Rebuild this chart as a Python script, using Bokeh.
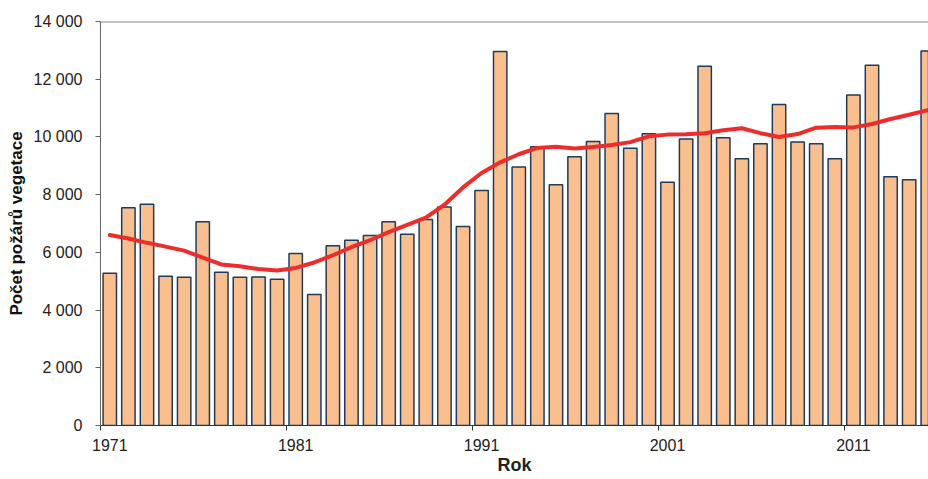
from bokeh.plotting import figure
from bokeh.models import Range1d, FixedTicker, LinearAxis, Span, ColumnDataSource, CustomJSTickFormatter
from bokeh.transform import dodge
from bokeh.embed import file_html
from bokeh.resources import INLINE

years = list(range(1971, 2016))
fires = [5280, 7550, 7670, 5170, 5140, 7060, 5310, 5140, 5150, 5070,
         5960, 4540, 6230, 6420, 6580, 7060, 6630, 7140, 7570, 6900,
         8140, 12960, 8960, 9660, 8340, 9310, 9840, 10810, 9610, 10110,
         8430, 9930, 12450, 9970, 9240, 9760, 11120, 9820, 9760, 9240,
         11450, 12480, 8620, 8520, 12980]
trend = [6600, 6480, 6330, 6200, 6060, 5820, 5580, 5520, 5420, 5370,
         5460, 5650, 5900, 6180, 6420, 6700, 6950, 7200, 7650, 8250,
         8750, 9120, 9400, 9620, 9660, 9600, 9650, 9720, 9820, 10020,
         10080, 10090, 10130, 10230, 10300, 10130, 10000, 10100, 10320, 10340,
         10330, 10450, 10620, 10770, 10930]
decade_ticks = [1971, 1981, 1991, 2001, 2011]
y_ticks = [0, 2000, 4000, 6000, 8000, 10000, 12000, 14000]
y_labels = ["0", "2 000", "4 000", "6 000", "8 000", "10 000", "12 000", "14 000"]

src = ColumnDataSource(dict(year=years, fires=fires, trend=trend))

p = figure(width=928, height=479, output_backend="svg", toolbar_location=None,
           x_range=Range1d(1971, 2015.54), y_range=Range1d(0, 14000),
           min_border_left=100, min_border_top=21, min_border_right=0,
           min_border_bottom=54, background_fill_color="white",
           border_fill_color="white")
p.outline_line_color = None
p.xgrid.visible = False
p.ygrid.visible = False

p.vbar(x=dodge("year", 0.5, range=p.x_range), top="fires", width=0.72, bottom=0,
       source=src, fill_color="#FABF8F", line_color="#1F3B5E", line_width=1.5)
p.line(x=dodge("year", 0.5, range=p.x_range), y="trend", source=src,
       line_color="#EE2C2C", line_width=4, line_join="round", line_cap="round")

p.add_layout(Span(location=14000, dimension="width", line_color="#888888", line_width=2))

FONT = "Liberation Sans"

# tick-mark axis (category boundaries)
xa = p.xaxis[0]
xa.ticker = FixedTicker(ticks=decade_ticks)
xa.major_label_text_font_size = "0px"
xa.major_label_standoff = 0
xa.major_tick_out = 5
xa.major_tick_in = 0
xa.minor_tick_line_color = None
xa.axis_line_color = "#333333"
xa.major_tick_line_color = "#333333"
xa.formatter = CustomJSTickFormatter(code="return '';")

# label axis (category centres)
la = LinearAxis(ticker=FixedTicker(ticks=[t + 0.5 for t in decade_ticks]),
                formatter=CustomJSTickFormatter(code="return String(Math.floor(tick));"))
la.axis_line_color = None
la.major_tick_line_color = None
la.minor_tick_line_color = None
la.major_tick_out = 0
la.major_tick_in = 0
la.major_label_standoff = 8
la.major_label_text_font = FONT
la.major_label_text_font_size = "16px"
la.major_label_text_color = "#222222"
la.axis_label = "Rok"
la.axis_label_text_font = FONT
la.axis_label_text_font_style = "bold"
la.axis_label_text_font_size = "18px"
la.axis_label_text_color = "#222222"
la.axis_label_standoff = 1
p.add_layout(la, "below")

ya = p.yaxis[0]
ya.ticker = FixedTicker(ticks=y_ticks)
ya.major_label_overrides = {t: l for t, l in zip(y_ticks, y_labels)}
ya.axis_line_color = "#666666"
ya.major_tick_line_color = "#666666"
ya.minor_tick_line_color = None
ya.major_tick_out = 5
ya.major_tick_in = 0
ya.major_label_standoff = 13
ya.major_label_text_font = FONT
ya.major_label_text_font_size = "16px"
ya.major_label_text_color = "#222222"
ya.axis_label = "Počet požárů vegetace"
ya.axis_label_text_font = FONT
ya.axis_label_text_font_style = "bold"
ya.axis_label_text_font_size = "17px"
ya.axis_label_text_color = "#111111"
ya.axis_label_standoff = 5

open("out.html", "w").write(file_html(p, INLINE))
